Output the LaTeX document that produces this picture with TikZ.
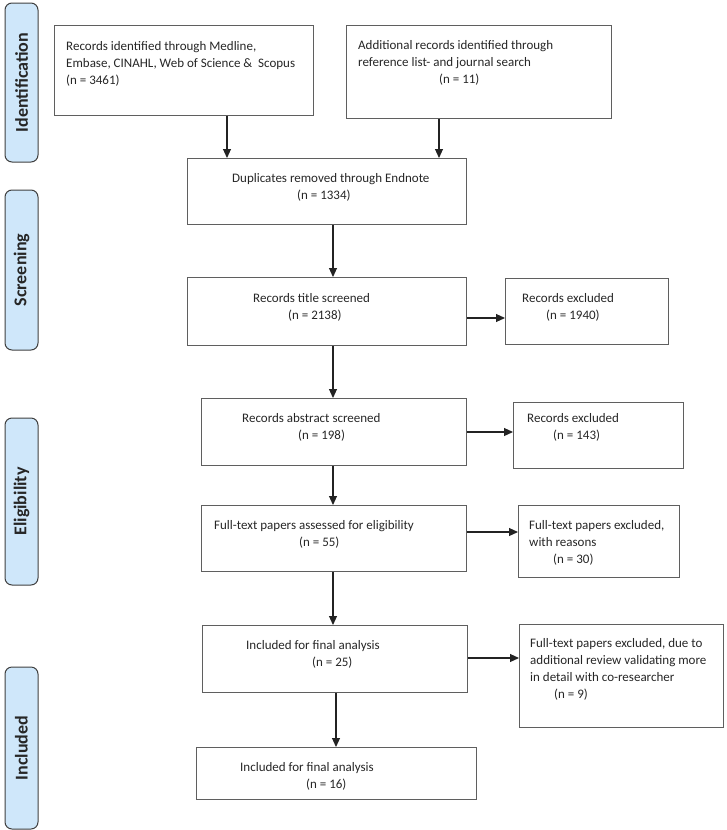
\documentclass[tikz,border=0pt]{standalone}
\usepackage{fontspec}
\setmainfont{Carlito}
\usetikzlibrary{arrows.meta}
\definecolor{sidefill}{RGB}{207,231,250}
\definecolor{sideline}{RGB}{64,64,64}
\definecolor{boxline}{RGB}{95,95,95}
\definecolor{arrline}{RGB}{35,35,35}
\begin{document}
\begin{tikzpicture}[x=1pt,y=-1pt,
  box/.style={draw=boxline, line width=1.1pt, anchor=north west, inner sep=0pt},
  side/.style={draw=sideline, fill=sidefill, line width=1pt, rounded corners=7pt,
    rotate=90, minimum height=33pt, inner sep=0pt, text=black!85,
    font=\bfseries\fontsize{18}{20}\selectfont},
  txt/.style={anchor=base west, inner sep=0pt, align=left, text=black!85,
    font=\fontsize{13}{17}\selectfont},
  arr/.style={draw=arrline, line width=1.1pt, -{Triangle[length=9pt,width=8pt]}}]
\useasboundingbox (0,0) rectangle (726,830);

% side labels
\node[side, minimum width=159pt] (sid) at (21.5,82.5) {Identification};
\node[side, minimum width=160pt] (sscr) at (21.5,270) {Screening};
\node[side, minimum width=167pt] (selig) at (21.5,501.5) {Eligibility};
\node[side, minimum width=162pt] (sinc) at (21.5,748) {Included};

% boxes
\node[box, minimum width=259pt, minimum height=90pt] (b1) at (54,25) {};
\node[box, minimum width=265pt, minimum height=93pt] (b2) at (346,25) {};
\node[box, minimum width=279pt, minimum height=66pt] (dup) at (187,158) {};
\node[box, minimum width=279pt, minimum height=68pt] (title) at (187,277) {};
\node[box, minimum width=163pt, minimum height=66pt] (ex1) at (505,278) {};
\node[box, minimum width=265pt, minimum height=67pt] (abs) at (201,398) {};
\node[box, minimum width=170pt, minimum height=66pt] (ex2) at (513,402) {};
\node[box, minimum width=265pt, minimum height=66pt] (full) at (201,505) {};
\node[box, minimum width=161pt, minimum height=72pt] (ex3) at (518,505) {};
\node[box, minimum width=265pt, minimum height=67pt] (inc1) at (202,625) {};
\node[box, minimum width=204pt, minimum height=103pt] (ex4) at (519,624) {};
\node[box, minimum width=280pt, minimum height=52pt] (fin) at (196,747) {};

% texts (anchor = baseline of the last line)
\node[txt] (t1) at (66,84) {Records identified through Medline,\\Embase, CINAHL, Web of Science \&\ \ Scopus\\(n = 3461)};
\node[txt] (t2) at (358,83) {Additional records identified through\\reference list- and journal search\\\hspace*{81pt}(n = 11)};
\node[txt] (tdup) at (232,199) {Duplicates removed through Endnote\\\hspace*{65pt}(n = 1334)};
\node[txt] (ttitle) at (253,319) {Records title screened\\\hspace*{35pt}(n = 2138)};
\node[txt] (tex1) at (522,319) {Records excluded\\\hspace*{24pt}(n = 1940)};
\node[txt] (tabs) at (242,439) {Records abstract screened\\\hspace*{56pt}(n = 198)};
\node[txt] (tex2) at (527,439) {Records excluded\\\hspace*{26pt}(n = 143)};
\node[txt] (tfull) at (214,546) {Full-text papers assessed for eligibility\\\hspace*{85pt}(n = 55)};
\node[txt] (tex3) at (529,563) {Full-text papers excluded,\\with reasons\\\hspace*{24pt}(n = 30)};
\node[txt] (tinc1) at (246,666) {Included for final analysis\\\hspace*{66pt}(n = 25)};
\node[txt] (tex4) at (530,698) {Full-text papers excluded, due to\\additional review validating more\\in detail with co-researcher\\\hspace*{24pt}(n = 9)};
\node[txt] (tfin) at (240,788) {Included for final analysis\\\hspace*{66pt}(n = 16)};

% helper coordinates
\coordinate (xa) at (227,0);
\coordinate (xb) at (439,0);
\coordinate (xc) at (333,0);
\coordinate (xd) at (336,0);
\coordinate (ya) at (0,318);
\coordinate (yb) at (0,432);
\coordinate (yc) at (0,532);
\coordinate (yd) at (0,658);

% connectors
\draw[arr] (b1.south -| xa) -- (dup.north -| xa);
\draw[arr] (b2.south -| xb) -- (dup.north -| xb);
\draw[arr] (dup.south -| xc) -- (title.north -| xc);
\draw[arr] (title.south -| xc) -- (abs.north -| xc);
\draw[arr] (abs.south -| xc) -- (full.north -| xc);
\draw[arr] (full.south -| xc) -- (inc1.north -| xc);
\draw[arr] (inc1.south -| xd) -- (fin.north -| xd);
\draw[arr] (title.east |- ya) -- (ex1.west |- ya);
\draw[arr] (abs.east |- yb) -- (ex2.west |- yb);
\draw[arr] (full.east |- yc) -- (ex3.west |- yc);
\draw[arr] (inc1.east |- yd) -- (ex4.west |- yd);
\end{tikzpicture}
\end{document}
